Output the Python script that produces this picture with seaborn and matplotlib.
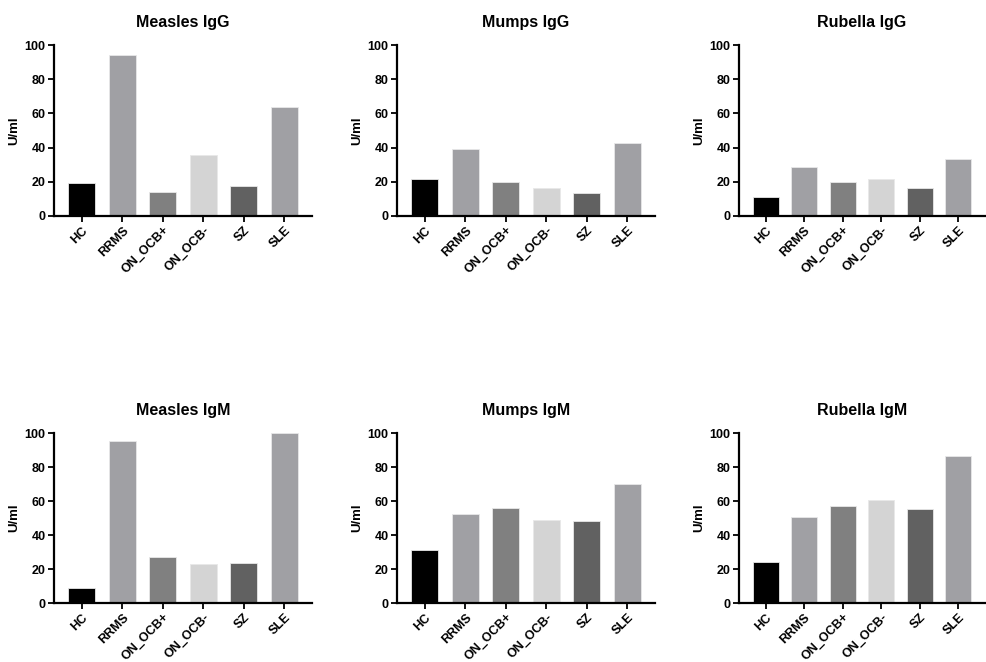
import matplotlib
matplotlib.use("Agg")
import matplotlib.pyplot as plt
import seaborn as sns
import pandas as pd

groups = ["HC", "RRMS", "ON_OCB+", "ON_OCB-", "SZ", "SLE"]
measles_igg = [19.1, 93.9, 13.9, 35.4, 17.6, 63.5]
mumps_igg = [21.4, 39.0, 19.7, 16.4, 13.5, 42.7]
rubella_igg = [11.3, 28.5, 19.9, 21.4, 16.4, 33.5]
measles_igm = [8.6, 95.3, 26.9, 23.1, 23.7, 100.0]
mumps_igm = [30.9, 52.5, 55.7, 48.8, 48.4, 69.9]
rubella_igm = [24.4, 50.8, 57.0, 60.4, 55.3, 86.7]
titles = ["Measles IgG", "Mumps IgG", "Rubella IgG",
          "Measles IgM", "Mumps IgM", "Rubella IgM"]
series = [measles_igg, mumps_igg, rubella_igg, measles_igm, mumps_igm, rubella_igm]
yticks = [0, 20, 40, 60, 80, 100]
colors = ["#000000", "#a0a0a4", "#808080", "#d4d4d4", "#616161", "#a0a0a4"]

sns.set_theme(style="ticks")
plt.rcParams['font.family'] = ['Liberation Sans', 'DejaVu Sans']
plt.rcParams['font.weight'] = 'bold'
plt.rcParams['text.color'] = 'black'
plt.rcParams['axes.labelcolor'] = 'black'
plt.rcParams['xtick.color'] = 'black'
plt.rcParams['ytick.color'] = 'black'

W, H = 986, 662
fig = plt.figure(figsize=(W / 100, H / 100), dpi=100)

# axes positions in pixels: (left, right, top, bottom)
lefts = [54, 397, 739]
rights = [312, 655, 985]
tops = [45, 433]
bottoms = [216, 603]

for i, (title, vals) in enumerate(zip(titles, series)):
    r, c = divmod(i, 3)
    l, rt = lefts[c], rights[c]
    t, b = tops[r], bottoms[r]
    ax = fig.add_axes([l / W, 1 - b / H, (rt - l) / W, (b - t) / H])
    df = pd.DataFrame({"group": groups, "value": vals})
    sns.barplot(data=df, x="group", y="value", hue="group", palette=colors,
                legend=False, ax=ax, width=0.67, saturation=1,
                edgecolor="#e8e8e8", linewidth=0.6)
    ax.set_xlim(-0.69, 5.69)
    ax.set_ylim(0, 100)
    ax.set_yticks(yticks)
    ax.set_yticklabels([str(v) for v in yticks], fontsize=9, fontweight="bold")
    ax.set_xticks(range(len(groups)))
    ax.set_xticklabels(groups, rotation=45, ha="right", rotation_mode="anchor",
                       fontsize=9, fontweight="bold")
    ax.set_xlabel("")
    ax.set_ylabel("U/ml", fontsize=9.5, fontweight="bold", labelpad=3)
    ax.set_title(title, fontsize=11.5, fontweight="bold", pad=13)
    for s in ["top", "right"]:
        ax.spines[s].set_visible(False)
    for s in ["left", "bottom"]:
        ax.spines[s].set_linewidth(1.6)
        ax.spines[s].set_color("black")
    ax.tick_params(axis="both", direction="out", length=4, width=1.3,
                   color="black", pad=2)

fig.savefig("out.png", dpi=100, facecolor="white")
